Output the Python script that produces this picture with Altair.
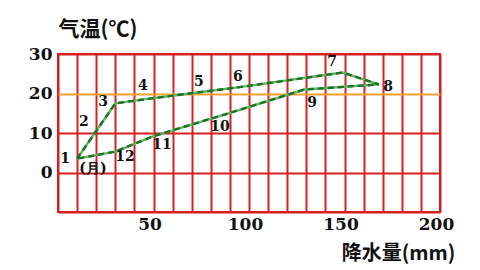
import altair as alt
import pandas as pd

# Monthly climate values: precipitation (mm) vs temperature (°C)
months = [1, 2, 3, 4, 5, 6, 7, 8, 9, 10, 11, 12]
precip = [10, 19, 30, 45, 72, 95, 149, 168, 129, 88, 50, 30]
temp = [3.5, 9.8, 17.5, 18.5, 20.2, 21.6, 25.3, 22.3, 21.0, 14.8, 9.2, 5.3]

# Label anchor points (data units) for month numbers and the "(月)" note
label_text = ["1", "2", "3", "4", "5", "6", "7", "8", "9", "10", "11", "12", "(月)"]
label_x = [3.7, 13.6, 23.6, 44.5, 73.8, 94.2, 143.5, 172.8, 133.0, 84.8, 54.5, 35.1, 18.3]
label_y = [3.4, 12.8, 17.8, 21.9, 22.9, 24.2, 28.0, 21.6, 17.7, 11.6, 7.0, 4.0, 0.9]

x_ticks = list(range(0, 201, 10))
y_ticks = [-10, 0, 10, 20, 30]

# closed loop: 1..12 then back to 1
path = pd.DataFrame({
    "order": list(range(13)),
    "precip": precip + [precip[0]],
    "temp": temp + [temp[0]],
})
labels = pd.DataFrame({"text": label_text, "lx": label_x, "ly": label_y})

RED = "#d42020"
grid_color = {"condition": {"test": "datum.value === 20", "value": "#f0a030"}, "value": RED}

x_scale = alt.Scale(domain=[0, 200], nice=False, zero=False)
y_scale = alt.Scale(domain=[-10, 30], nice=False, zero=False)

x_axis = alt.Axis(
    values=x_ticks,
    labelExpr="datum.value % 50 === 0 && datum.value > 0 ? datum.label : ''",
    labelOverlap=False,
    grid=True, gridColor=RED, gridWidth=2, gridOpacity=1,
    domain=False, ticks=False, labelPadding=4,
    labelFont="DejaVu Serif", labelFontWeight="bold", labelFontSize=17, labelColor="#111",
    labelFlush=False, labelOffset=-4,
    title="降水量(mm)", titleFont="Noto Sans CJK SC", titleFontWeight="bold", titleFontSize=20,
    titleColor="#111", titleAngle=0, titleAlign="center", titleBaseline="middle",
    titleX=340, titleY=41,
)
y_axis = alt.Axis(
    values=y_ticks,
    labelExpr="datum.value >= 0 ? datum.label : ''",
    labelOverlap=False,
    grid=True, gridColor=grid_color, gridWidth=2, gridOpacity=1,
    domain=False, ticks=False, labelPadding=6,
    labelFont="DejaVu Serif", labelFontWeight="bold", labelFontSize=17, labelColor="#111",
    labelFlush=False,
    title="气温(℃)", titleFont="Noto Sans CJK SC", titleFontWeight="bold", titleFontSize=21,
    titleColor="#111", titleAngle=0, titleAlign="left", titleBaseline="middle",
    titleX=0, titleY=-25,
)

base = alt.Chart(path).encode(
    x=alt.X("precip:Q", scale=x_scale, axis=x_axis),
    y=alt.Y("temp:Q", scale=y_scale, axis=y_axis),
    order="order:O",
)
line_light = base.mark_line(color="#58b858", strokeWidth=2.4)
line_dash = base.mark_line(color="#1f6e2a", strokeWidth=2.4, strokeDash=[6, 4])

text = alt.Chart(labels).mark_text(
    font="DejaVu Serif", fontWeight="bold", fontSize=14, color="#111",
    align="center", baseline="middle",
).encode(
    x=alt.X("lx:Q", scale=x_scale, axis=x_axis),
    y=alt.Y("ly:Q", scale=y_scale, axis=y_axis),
    text="text:N",
)

chart = alt.layer(line_light, line_dash, text).properties(
    width=382, height=158,
    autosize="none",
    padding={"left": 58, "top": 54, "right": 40, "bottom": 58},
    background="white",
).configure_view(stroke=RED, strokeWidth=2)

chart.save("out.html", embed_options={"renderer": "svg", "actions": False})
